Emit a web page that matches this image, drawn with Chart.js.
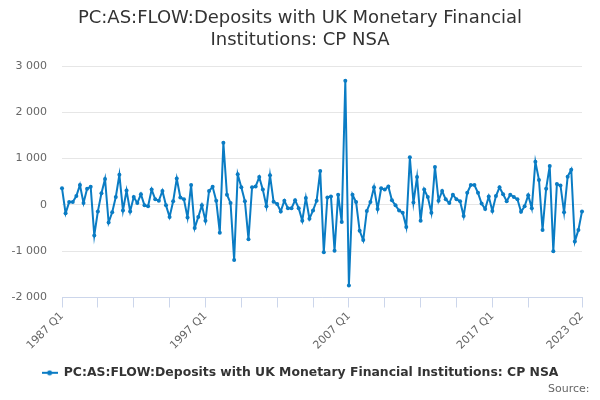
<!DOCTYPE html>
<html>
<head>
<meta charset="utf-8">
<script src="https://cdn.jsdelivr.net/npm/chart.js@4"></script>
<style>
  html, body { margin: 0; padding: 0; background: #fff; }
  #wrap { width: 600px; height: 400px; }
</style>
</head>
<body>
<div id="wrap"><canvas id="c" width="600" height="400"></canvas></div>
<script>
// Quarterly flow, 1987 Q1 .. 2023 Q2 (£m).
const firstYear = 1987;
const values = [
  360, -180, 60, 60, 190, 430, 40, 350, 390, -660,
  -140, 250, 560, -380, -160, 170, 650, -120, 310, -140,
  170, 40, 230, -10, -30, 330, 120, 90, 300, -10,
  -260, 80, 570, 160, 120, -270, 430, -500, -260, -10,
  -340, 300, 390, 90, -600, 1340, 220, 40, -1190, 660,
  380, 80, -740, 380, 400, 600, 330, -30, 640, 70,
  20, -140, 90, -70, -70, 100, -70, -340, 150, -300,
  -120, 90, 730, -1020, 160, 180, -990, 220, -370, 2680,
  -1740, 220, 60, -560, -760, -130, 60, 380, -90, 360,
  330, 400, 100, -10, -120, -170, -480, 1030, 50, 600,
  -340, 330, 170, -170, 820, 90, 300, 120, 40, 220,
  120, 80, -240, 260, 430, 430, 260, 30, -90, 180,
  -130, 190, 380, 230, 80, 220, 170, 120, -150, -30,
  210, -70, 930, 540, -540, 350, 840, -1000, 450, 420,
  -160, 610, 760, -790, -540, -140
];
const quarters = values.map((_, i) => `${firstYear + Math.floor(i / 4)} Q${i % 4 + 1}`);
const shownLabels = ['1987 Q1', '1997 Q1', '2007 Q1', '2017 Q1', '2023 Q2'];
const yTicks = [-2000, -1000, 0, 1000, 2000, 3000];

const seriesName = 'PC:AS:FLOW:Deposits with UK Monetary Financial Institutions: CP NSA';
const titleLines = ['PC:AS:FLOW:Deposits with UK Monetary Financial', 'Institutions: CP NSA'];

const BLUE = '#0a7cc4', TEXT = '#333333', MUTED = '#666666', GRID = '#e6e6e6', AXIS = '#ccd6eb';
const FONT = "'DejaVu Sans', sans-serif";

// legend symbol: short line with a dot
const sym = document.createElement('canvas');
sym.width = 16; sym.height = 6;
(() => {
  const g = sym.getContext('2d');
  g.strokeStyle = BLUE; g.lineWidth = 2;
  g.beginPath(); g.moveTo(0, 3); g.lineTo(16, 3); g.stroke();
  g.fillStyle = BLUE; g.beginPath(); g.arc(8, 3, 2.5, 0, Math.PI * 2); g.fill();
})();

const thousands = v => String(v).replace(/\B(?=(\d{3})+(?!\d))/g, ' ');
const lastIdx = values.length - 1;

new Chart(document.getElementById('c'), {
  type: 'line',
  data: {
    labels: quarters,
    datasets: [{
      label: seriesName,
      data: values,
      borderColor: BLUE, backgroundColor: BLUE,
      borderWidth: 2, tension: 0,
      pointRadius: 2, pointBorderWidth: 0, pointBackgroundColor: BLUE,
    }],
  },
  options: {
    responsive: false, animation: false,
    layout: { padding: 0 },
    plugins: {
      title: {
        display: true, text: titleLines, color: TEXT,
        font: { family: FONT, size: 18, weight: 'normal', lineHeight: 1.2 },
        padding: { top: 8, bottom: 14.8 },
      },
      subtitle: {
        // trailing spaces keep it off the right edge, like the reference
        display: true, text: 'Source:   ', position: 'bottom', align: 'end', color: MUTED,
        font: { family: FONT, size: 11, weight: 'normal' },
        padding: { top: -6.2, bottom: 4 },
      },
      legend: {
        position: 'bottom',
        labels: {
          usePointStyle: true, pointStyle: sym, pointStyleWidth: 16, boxHeight: 12,
          color: TEXT, font: { family: FONT, size: 12.4, weight: 'bold' }, padding: 10,
        },
      },
      tooltip: { enabled: false },
    },
    scales: {
      x: {
        // a tick every 10 quarters, plus the last one (the one just before it is dropped)
        afterBuildTicks: s => {
          s.ticks = s.ticks.filter(t => (t.value % 10 === 0 && t.value <= lastIdx - 10) || t.value === lastIdx);
        },
        afterFit: s => { s.height = 59.1; },
        grid: { drawOnChartArea: false, drawTicks: true, tickLength: 10, color: AXIS },
        border: { display: true, color: AXIS, width: 1 },
        ticks: {
          autoSkip: false, minRotation: 45, maxRotation: 45, padding: 2,
          color: MUTED, font: { family: FONT, size: 11 },
          callback: v => shownLabels.includes(quarters[v]) ? quarters[v] : '',
        },
      },
      y: {
        min: yTicks[0], max: yTicks[yTicks.length - 1],
        afterBuildTicks: s => { s.ticks = yTicks.map(v => ({ value: v })); },
        afterFit: s => { s.width = 62; },
        grid: { color: GRID, drawTicks: false },
        border: { display: false },
        ticks: { padding: 15, color: MUTED, font: { family: FONT, size: 11 }, callback: v => thousands(v) },
      },
      // empty right gutter so the plot ends where the reference does
      gutter: {
        position: 'right', display: true,
        afterFit: s => { s.width = 18; },
        grid: { display: false }, border: { display: false }, ticks: { display: false },
      },
    },
  },
});
</script>
</body>
</html>
